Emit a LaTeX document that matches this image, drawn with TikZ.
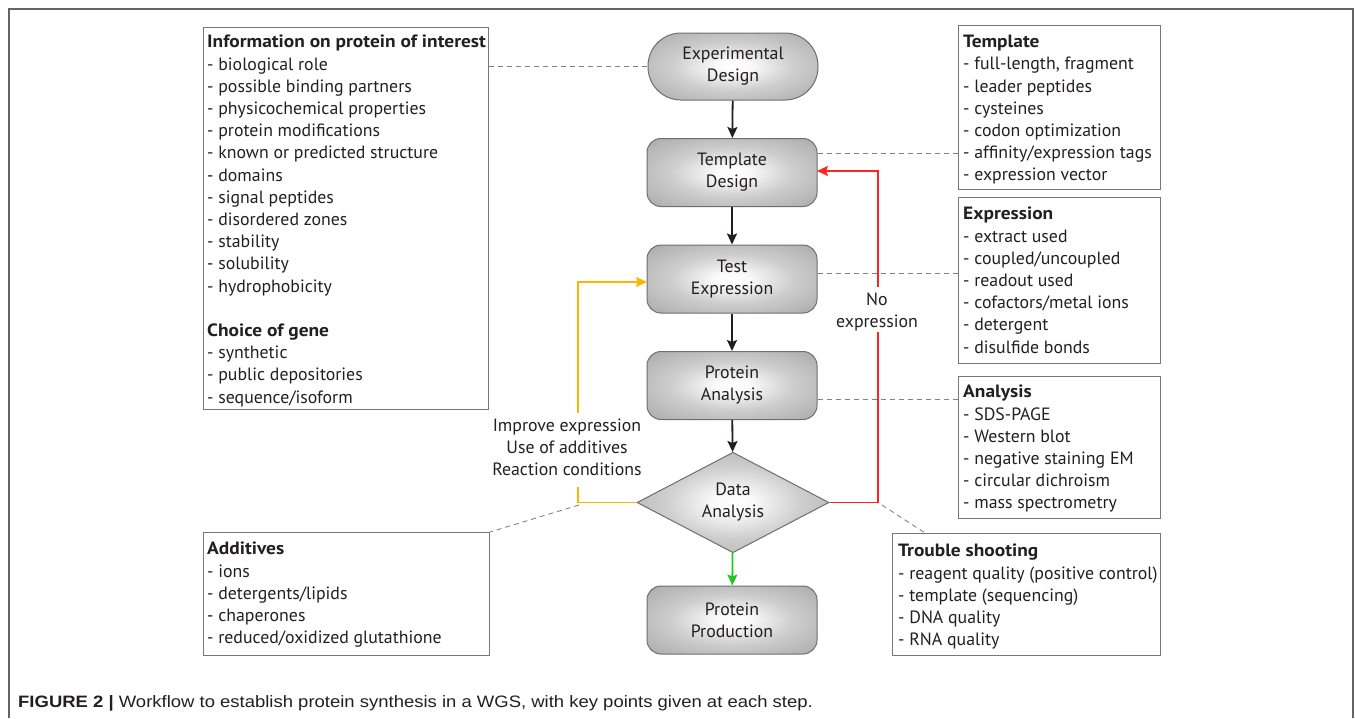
\documentclass[tikz,border=0pt]{standalone}
\usepackage{fontspec}
\setmainfont{PT Sans}
\newfontfamily\headfont{PT Sans}[FakeStretch=1.09]
\newfontfamily\capfont{Liberation Sans}[FakeStretch=1.12]
\newcommand\boxhead[1]{{\headfont\bfseries #1}}
\usetikzlibrary{shapes.geometric,arrows.meta}
\definecolor{shadegray}{RGB}{165,165,165}
\definecolor{nodeborder}{RGB}{110,110,110}
\definecolor{txtdark}{RGB}{35,31,32}
\definecolor{boxborder}{RGB}{120,120,120}
\definecolor{dashgray}{RGB}{130,130,130}
\definecolor{framegray}{RGB}{100,100,100}
\definecolor{myred}{RGB}{255,35,35}
\definecolor{myyellow}{RGB}{255,180,0}
\definecolor{mygreen}{RGB}{30,200,30}
\pgfdeclareradialshading{nodeshade}{\pgfpoint{0bp}{0bp}}{color(0bp)=(white); color(5bp)=(white!98!black); color(18bp)=(shadegray!55!white); color(38bp)=(shadegray); color(50bp)=(shadegray)}
\tikzset{
  flowbox/.style={draw=nodeborder, line width=1pt, shade, shading=nodeshade,
    minimum width=170pt, minimum height=68pt, align=center, inner sep=0pt,
    font=\fontsize{17.8}{22}\selectfont, text=txtdark},
  roundbox/.style={flowbox, rounded corners=14pt},
  stadium/.style={flowbox, rounded corners=33pt, minimum height=67pt},
  decision/.style={flowbox, diamond, minimum width=192pt, minimum height=89pt},
  infobox/.style={draw=boxborder, line width=1pt, anchor=north west, inner sep=0pt},
  infotext/.style={anchor=north west, align=left, inner sep=0pt,
    font=\fontsize{17.8}{22.2}\selectfont, text=txtdark},
  flowarrow/.style={line width=1.8pt, -{Stealth[length=11pt,width=10pt,inset=2pt]}},
  blackarrow/.style={flowarrow, draw=txtdark},
  redline/.style={line width=1.8pt, draw=myred},
  yelline/.style={line width=1.8pt, draw=myyellow},
  dashlink/.style={draw=dashgray, line width=0.9pt, dash pattern=on 5pt off 4pt},
  looplabel/.style={align=center, inner sep=0pt, font=\fontsize{17.8}{22.2}\selectfont, text=txtdark}
}
\begin{document}
\begin{tikzpicture}[x=1pt,y=-1pt]
\useasboundingbox (0,0) rectangle (1355,718);
\draw[framegray, line width=2pt] (9,718) -- (9,9) -- (1353,9) -- (1353,718);

% main flow
\node[stadium] (exp) at (733,66.5) {Experimental\\Design};
\node[roundbox] (tmp) at (732,172.5) {Template\\Design};
\node[roundbox] (test) at (732,279) {Test\\Expression};
\node[roundbox] (prot) at (732,385.5) {Protein\\Analysis};
\node[decision] (data) at (733,502.5) {Data\\Analysis};
\node[roundbox] (prodn) at (732,620) {Protein\\Production};

\draw[blackarrow] (exp) -- (tmp);
\draw[blackarrow] (tmp) -- (test);
\draw[blackarrow] (test) -- (prot);
\draw[blackarrow] (prot) -- (data);
\draw[flowarrow, draw=mygreen] (data) -- (prodn);

% yellow loop
\node[looplabel] (improve) at (567,447) {Improve expression\\Use of additives\\Reaction conditions};
\coordinate (ylo) at (578,487);
\coordinate (yhi) at (578,413);
\coordinate (ytgt) at (647,282);
\draw[yelline] (data.west) -- (data.west -| ylo) -- (ylo);
\draw[flowarrow, draw=myyellow] (yhi) |- (ytgt);

% red loop
\node[looplabel] (noexp) at (877,312) {No\\expression};
\coordinate (rlo) at (878,332);
\coordinate (rhi) at (878,287);
\coordinate (rtgt) at (817,171);
\draw[redline] (data.east) -- (data.east -| rlo) -- (rlo);
\draw[flowarrow, draw=myred] (rhi) |- (rtgt);

% boxes
\node[infobox, minimum width=285pt, minimum height=382pt] (infob) at (203,27) {};
\node[infotext] (infot) at (207,35) {\boxhead{Information on protein of interest}\\
- biological role\\
- possible binding partners\\
- physicochemical properties\\
- protein modifications\\
- known or predicted structure\\
- domains\\
- signal peptides\\
- disordered zones\\
- stability\\
- solubility\\
- hydrophobicity\\[22.2pt]
\boxhead{Choice of gene}\\
- synthetic\\
- public depositories\\
- sequence/isoform};

\node[infobox, minimum width=202pt, minimum height=164pt] (tmpb) at (958,25) {};
\node[infotext] (tmpt) at (963,35) {\boxhead{Template}\\
- full-length, fragment\\
- leader peptides\\
- cysteines\\
- codon optimization\\
- affinity/expression tags\\
- expression vector};

\node[infobox, minimum width=202pt, minimum height=166pt] (expb) at (958,197) {};
\node[infotext] (expt) at (963,207) {\boxhead{Expression}\\
- extract used\\
- coupled/uncoupled\\
- readout used\\
- cofactors/metal ions\\
- detergent\\
- disulfide bonds};

\node[infobox, minimum width=202pt, minimum height=142pt] (anab) at (958,376) {};
\node[infotext] (anat) at (963,385) {\boxhead{Analysis}\\
- SDS-PAGE\\
- Western blot\\
- negative staining EM\\
- circular dichroism\\
- mass spectrometry};

\node[infobox, minimum width=268pt, minimum height=122pt] (troub) at (892,533) {};
\node[infotext] (trout) at (898,544) {\boxhead{Trouble shooting}\\
- reagent quality (positive control)\\
- template (sequencing)\\
- DNA quality\\
- RNA quality};

\node[infobox, minimum width=286pt, minimum height=123pt] (addb) at (203,532) {};
\node[infotext] (addt) at (207,542) {\boxhead{Additives}\\
- ions\\
- detergents/lipids\\
- chaperones\\
- reduced/oxidized glutathione};

% dashed links
\draw[dashlink] (infob.east |- exp) -- (exp.west);
\draw[dashlink] (tmp.east |- 0,153) -- (tmpb.west |- 0,153);
\draw[dashlink] (test.east |- 0,273) -- (expb.west |- 0,273);
\draw[dashlink] (prot.east |- 0,399) -- (anab.west |- 0,399);
\coordinate (trA) at (882,505);
\draw[dashlink] (trA) -- (troub.north west -| 925,0);
\coordinate (adA) at (579,505);
\draw[dashlink] (adA) -- (addb.north east);

% caption
\node[anchor=base west, inner sep=0pt, font=\capfont\fontsize{16.5}{18}\selectfont, text=txtdark] (cap) at (18,707)
  {\textbf{FIGURE 2 |} Workflow to establish protein synthesis in a WGS, with key points given at each step.};
\end{tikzpicture}
\end{document}
